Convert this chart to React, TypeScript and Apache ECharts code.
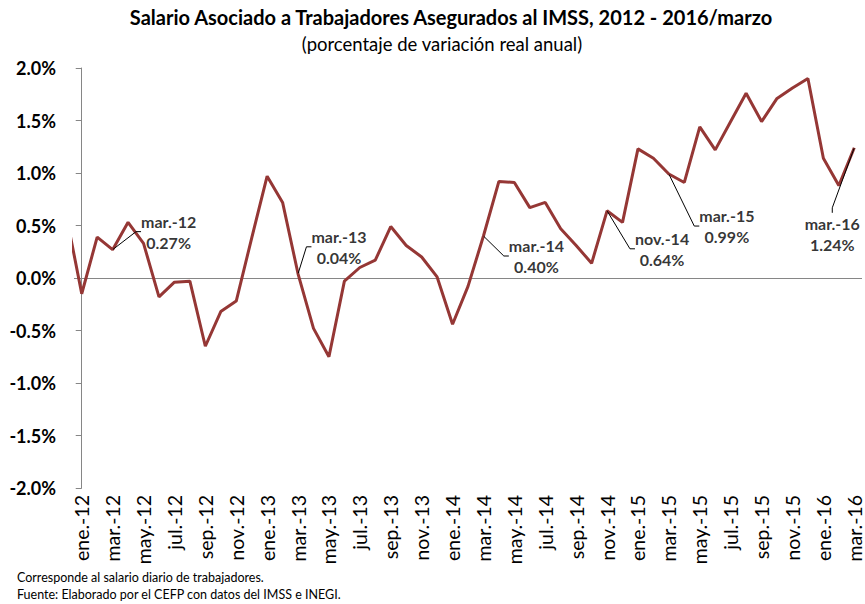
import React, { useEffect, useRef } from 'react';
import * as echarts from 'echarts';

// ---- data ----
const categories = [
  'ene.-12', 'feb.-12', 'mar.-12', 'abr.-12', 'may.-12', 'jun.-12', 'jul.-12', 'ago.-12', 'sep.-12', 'oct.-12', 'nov.-12', 'dic.-12',
  'ene.-13', 'feb.-13', 'mar.-13', 'abr.-13', 'may.-13', 'jun.-13', 'jul.-13', 'ago.-13', 'sep.-13', 'oct.-13', 'nov.-13', 'dic.-13',
  'ene.-14', 'feb.-14', 'mar.-14', 'abr.-14', 'may.-14', 'jun.-14', 'jul.-14', 'ago.-14', 'sep.-14', 'oct.-14', 'nov.-14', 'dic.-14',
  'ene.-15', 'feb.-15', 'mar.-15', 'abr.-15', 'may.-15', 'jun.-15', 'jul.-15', 'ago.-15', 'sep.-15', 'oct.-15', 'nov.-15', 'dic.-15',
  'ene.-16', 'feb.-16', 'mar.-16',
];

const values = [
  -0.15, 0.39, 0.27, 0.53, 0.33, -0.18, -0.04, -0.03, -0.65, -0.32, -0.22, 0.38,
  0.97, 0.72, 0.04, -0.48, -0.75, -0.03, 0.10, 0.17, 0.49, 0.31, 0.20, 0.01,
  -0.44, -0.08, 0.40, 0.92, 0.91, 0.67, 0.72, 0.47, 0.31, 0.14, 0.64, 0.53,
  1.23, 1.14, 0.99, 0.91, 1.44, 1.22, 1.49, 1.76, 1.49, 1.71, 1.81, 1.90,
  1.14, 0.88, 1.24,
];

// month preceding the first labelled one (only its segment is visible)
const priorValue = 0.6;

const annotated = ['mar.-12', 'mar.-13', 'mar.-14', 'nov.-14', 'mar.-15', 'mar.-16'];

const titleText = 'Salario Asociado a Trabajadores Asegurados al IMSS, 2012 - 2016/marzo';
const subtitleText = '(porcentaje de variación real anual)';
const notes = [
  'Corresponde al salario diario de trabajadores.',
  'Fuente: Elaborado por el CEFP con datos del IMSS e INEGI.',
];

// ---- layout (label offsets from their point, px) ----
const labelOffsets: Record<string, [number, number]> = {
  'mar.-12': [56, -18],
  'mar.-13': [41, -27],
  'mar.-14': [53, 20],
  'nov.-14': [55, 38],
  'mar.-15': [58, 52],
  'mar.-16': [-22, 86],
};

const FONT = 'Lato, "Open Sans", sans-serif';
const LINE_COLOR = '#953735';
const AXIS_COLOR = '#868686';

export default function App() {
  const ref = useRef<HTMLDivElement>(null);

  useEffect(() => {
    if (!ref.current) return;
    const chart = echarts.init(ref.current, undefined, { renderer: 'svg' });

    const lineData: [number, number][] = [[-1, priorValue], ...values.map((v, i) => [i, v] as [number, number])];
    const labelIdx = categories.map((_, i) => i).filter((i) => i % 2 === 0);
    const annData = annotated.map((name) => {
      const i = categories.indexOf(name);
      return { name, value: [i, values[i]] };
    });

    chart.setOption({
      animation: false,
      textStyle: { fontFamily: FONT },
      title: [
        {
          text: titleText,
          left: 446,
          top: 2,
          textAlign: 'center',
          textStyle: { fontFamily: FONT, fontSize: 20, fontWeight: 'bold', color: '#000' },
        },
        {
          text: subtitleText,
          left: 437,
          top: 29,
          textAlign: 'center',
          textStyle: { fontFamily: FONT, fontSize: 18.5, fontWeight: 'normal', color: '#000' },
        },
      ],
      grid: { left: 74, right: 3, top: 68, bottom: 116, containLabel: false },
      xAxis: {
        type: 'value',
        min: -0.5,
        max: 50.5,
        axisLine: { show: false },
        axisTick: { show: false },
        splitLine: { show: false },
        axisLabel: {
          customValues: labelIdx,
          rotate: 90,
          margin: 7,
          fontFamily: FONT,
          fontSize: 19.5,
          lineHeight: 15,
          color: '#000',
          formatter: (v: number) => categories[Math.round(v)] ?? '',
        },
      },
      yAxis: {
        type: 'value',
        min: -2,
        max: 2,
        interval: 0.5,
        axisLine: { show: true, lineStyle: { color: AXIS_COLOR, width: 1 } },
        axisTick: { show: true, length: 6, lineStyle: { color: AXIS_COLOR } },
        splitLine: { show: false },
        axisLabel: {
          margin: 18,
          fontFamily: FONT,
          fontSize: 18,
          fontWeight: 'bold',
          color: '#000',
          formatter: (v: number) => v.toFixed(1) + '%',
        },
      },
      series: [
        {
          type: 'line',
          data: lineData,
          showSymbol: false,
          symbol: 'none',
          clip: true,
          z: 3,
          lineStyle: { color: LINE_COLOR, width: 3 },
          markLine: {
            silent: true,
            symbol: 'none',
            z: 1,
            label: { show: false },
            lineStyle: { color: AXIS_COLOR, width: 1, type: 'solid' },
            data: [{ yAxis: 0 }],
          },
        },
        {
          type: 'scatter',
          data: annData,
          symbolSize: 1,
          itemStyle: { color: 'rgba(0,0,0,0)' },
          z: 4,
          label: {
            show: true,
            position: 'inside',
            fontFamily: FONT,
            fontSize: 16,
            fontWeight: 'bold',
            color: '#000',
            lineHeight: 21,
            align: 'center',
            formatter: (p: any) => `${p.name}\n${p.value[1].toFixed(2)}%`,
          },
          labelLine: {
            show: true,
            length2: 5,
            lineStyle: { color: '#000', width: 1 },
          },
          labelLayout: (params: any) => {
            const off = labelOffsets[annotated[params.dataIndex]] || [0, 0];
            return { dx: off[0], dy: off[1] };
          },
        },
      ],
      graphic: notes.map((t, i) => ({
        type: 'text',
        left: 17,
        top: 571 + i * 17,
        style: { text: t, font: `12.5px ${FONT}`, fill: '#000' },
      })),
    });

    return () => chart.dispose();
  }, []);

  return <div ref={ref} style={{ position: 'absolute', left: 0, top: 0, width: 865, height: 604 }} />;
}
